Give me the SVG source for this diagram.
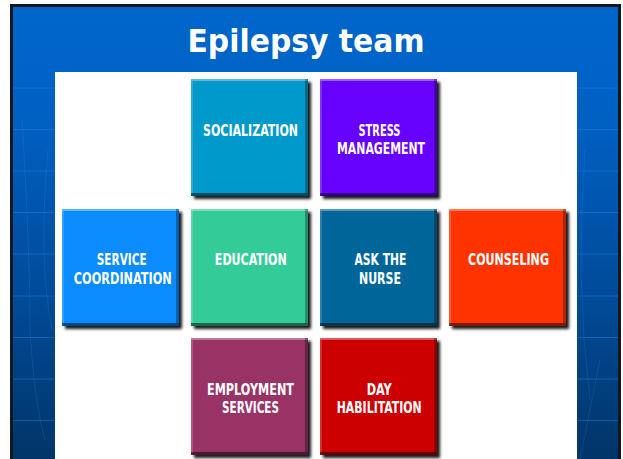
<svg xmlns="http://www.w3.org/2000/svg" width="623" height="459" viewBox="0 0 623 459">
  <defs>
    <linearGradient id="bg" x1="0" y1="0" x2="0" y2="1">
      <stop offset="0" stop-color="#0066CC"/>
      <stop offset="0.25" stop-color="#0060C2"/>
      <stop offset="0.6" stop-color="#004C9C"/>
      <stop offset="1" stop-color="#003466"/>
    </linearGradient>
    <filter id="sh" x="-10%" y="-10%" width="130%" height="130%">
      <feGaussianBlur stdDeviation="1.6"/>
    </filter>
    <style>
      .tshadow { fill: #000; opacity: 0.9; }
      .hl { fill: #fff; opacity: 0.35; }
      .hl2 { fill: #fff; opacity: 0.18; }
      .dk { fill: #000; opacity: 0.5; }
      .dk2 { fill: #000; opacity: 0.3; }
      .lbl { fill: #fff; font-family: 'DejaVu Sans Condensed', 'DejaVu Sans', 'Liberation Sans', sans-serif; font-stretch: condensed; font-weight: bold; font-size: 15.8px; text-anchor: middle; }
      .grid { stroke: #2a86e6; stroke-width: 1; opacity: 0.45; fill: none; }
      .arc { stroke: #3a90e8; stroke-width: 1; opacity: 0.2; fill: none; }
      .c1 { fill: #0099CC; }
      .c2 { fill: #6600FF; }
      .c3 { fill: #0A8CFF; }
      .c4 { fill: #33CC99; }
      .c5 { fill: #006699; }
      .c6 { fill: #FF3300; }
      .c7 { fill: #993366; }
      .c8 { fill: #CC0000; }
    </style>
  </defs>

  <rect x="0" y="0" width="623" height="459" fill="#ffffff"/>
  <!-- frame -->
  <rect x="10" y="4" width="611" height="460" fill="#111820"/>
  <rect x="13" y="7" width="605" height="460" fill="url(#bg)"/>
  <g id="grid">
    <line class="grid" x1="13" y1="88" x2="618" y2="88"/>
    <line class="grid" x1="13" y1="129.5" x2="618" y2="129.5"/>
    <line class="grid" x1="13" y1="171" x2="618" y2="171"/>
    <line class="grid" x1="13" y1="212.5" x2="618" y2="212.5"/>
    <line class="grid" x1="13" y1="254" x2="618" y2="254"/>
    <line class="grid" x1="13" y1="296" x2="618" y2="296"/>
    <line class="grid" x1="13" y1="337.5" x2="618" y2="337.5"/>
    <line class="grid" x1="13" y1="379" x2="618" y2="379"/>
    <line class="grid" x1="13" y1="420.5" x2="618" y2="420.5"/>
    <path class="arc" d="M48 150 Q38 260 52 330"/>
    <path class="arc" d="M22 120 Q30 250 30 330 Q34 400 45 440"/>
    <path class="arc" d="M585 150 Q575 280 590 400"/>
    <path class="arc" d="M600 360 L580 459"/>
  </g>
  <rect x="55" y="72" width="522" height="390" fill="#ffffff"/>

  <text x="306" y="51.5" fill="#ffffff" font-family="'DejaVu Sans', Verdana, sans-serif" font-weight="bold" font-size="32" text-anchor="middle" textLength="237" lengthAdjust="spacingAndGlyphs">Epilepsy team</text>

  <g id="connectors"/>

  <g id="socialization">
    <rect class="tshadow" x="194" y="82" width="117" height="117" filter="url(#sh)"/>
    <rect class="c1" x="191" y="79" width="117" height="117"/>
    <rect class="hl" x="191" y="79" width="117" height="2"/>
    <rect class="hl2" x="191" y="81" width="2" height="115"/>
    <rect class="dk" x="191" y="193" width="117" height="3"/>
    <rect class="dk2" x="305" y="79" width="3" height="114"/>
    <text class="lbl" x="250.5" y="136" textLength="95" lengthAdjust="spacingAndGlyphs">SOCIALIZATION</text>
  </g>

  <g id="stress-management">
    <rect class="tshadow" x="323" y="82" width="117" height="117" filter="url(#sh)"/>
    <rect class="c2" x="320" y="79" width="117" height="117"/>
    <rect class="hl" x="320" y="79" width="117" height="2"/>
    <rect class="hl2" x="320" y="81" width="2" height="115"/>
    <rect class="dk" x="320" y="193" width="117" height="3"/>
    <rect class="dk2" x="434" y="79" width="3" height="114"/>
    <text class="lbl" x="379.5" y="135.7" textLength="42" lengthAdjust="spacingAndGlyphs">STRESS</text>
    <text class="lbl" x="381" y="154.3" textLength="88" lengthAdjust="spacingAndGlyphs">MANAGEMENT</text>
  </g>

  <g id="service-coordination">
    <rect class="tshadow" x="65" y="212" width="117" height="117" filter="url(#sh)"/>
    <rect class="c3" x="62" y="209" width="117" height="117"/>
    <rect class="hl" x="62" y="209" width="117" height="2"/>
    <rect class="hl2" x="62" y="211" width="2" height="115"/>
    <rect class="dk" x="62" y="323" width="117" height="3"/>
    <rect class="dk2" x="176" y="209" width="3" height="114"/>
    <text class="lbl" x="121.7" y="265" textLength="50" lengthAdjust="spacingAndGlyphs">SERVICE</text>
    <text class="lbl" x="122.8" y="283.6" textLength="98" lengthAdjust="spacingAndGlyphs">COORDINATION</text>
  </g>

  <g id="education">
    <rect class="tshadow" x="194" y="212" width="117" height="117" filter="url(#sh)"/>
    <rect class="c4" x="191" y="209" width="117" height="117"/>
    <rect class="hl" x="191" y="209" width="117" height="2"/>
    <rect class="hl2" x="191" y="211" width="2" height="115"/>
    <rect class="dk" x="191" y="323" width="117" height="3"/>
    <rect class="dk2" x="305" y="209" width="3" height="114"/>
    <text class="lbl" x="250.8" y="265" textLength="72" lengthAdjust="spacingAndGlyphs">EDUCATION</text>
  </g>

  <g id="ask-the-nurse">
    <rect class="tshadow" x="323" y="212" width="117" height="117" filter="url(#sh)"/>
    <rect class="c5" x="320" y="209" width="117" height="117"/>
    <rect class="hl" x="320" y="209" width="117" height="2"/>
    <rect class="hl2" x="320" y="211" width="2" height="115"/>
    <rect class="dk" x="320" y="323" width="117" height="3"/>
    <rect class="dk2" x="434" y="209" width="3" height="114"/>
    <text class="lbl" x="380.5" y="265" textLength="52" lengthAdjust="spacingAndGlyphs">ASK THE</text>
    <text class="lbl" x="380" y="283.6" textLength="42" lengthAdjust="spacingAndGlyphs">NURSE</text>
  </g>

  <g id="counseling">
    <rect class="tshadow" x="452" y="212" width="117" height="117" filter="url(#sh)"/>
    <rect class="c6" x="449" y="209" width="117" height="117"/>
    <rect class="hl" x="449" y="209" width="117" height="2"/>
    <rect class="hl2" x="449" y="211" width="2" height="115"/>
    <rect class="dk" x="449" y="323" width="117" height="3"/>
    <rect class="dk2" x="563" y="209" width="3" height="114"/>
    <text class="lbl" x="508.5" y="265" textLength="81" lengthAdjust="spacingAndGlyphs">COUNSELING</text>
  </g>

  <g id="employment-services">
    <rect class="tshadow" x="194" y="341" width="117" height="117" filter="url(#sh)"/>
    <rect class="c7" x="191" y="338" width="117" height="117"/>
    <rect class="hl" x="191" y="338" width="117" height="2"/>
    <rect class="hl2" x="191" y="340" width="2" height="115"/>
    <rect class="dk" x="191" y="452" width="117" height="3"/>
    <rect class="dk2" x="305" y="338" width="3" height="114"/>
    <text class="lbl" x="250.5" y="394.6" textLength="87" lengthAdjust="spacingAndGlyphs">EMPLOYMENT</text>
    <text class="lbl" x="250.5" y="413.2" textLength="57" lengthAdjust="spacingAndGlyphs">SERVICES</text>
  </g>

  <g id="day-habilitation">
    <rect class="tshadow" x="323" y="341" width="117" height="117" filter="url(#sh)"/>
    <rect class="c8" x="320" y="338" width="117" height="117"/>
    <rect class="hl" x="320" y="338" width="117" height="2"/>
    <rect class="hl2" x="320" y="340" width="2" height="115"/>
    <rect class="dk" x="320" y="452" width="117" height="3"/>
    <rect class="dk2" x="434" y="338" width="3" height="114"/>
    <text class="lbl" x="379.2" y="394.6" textLength="25" lengthAdjust="spacingAndGlyphs">DAY</text>
    <text class="lbl" x="379.2" y="413.2" textLength="85" lengthAdjust="spacingAndGlyphs">HABILITATION</text>
  </g>
</svg>
